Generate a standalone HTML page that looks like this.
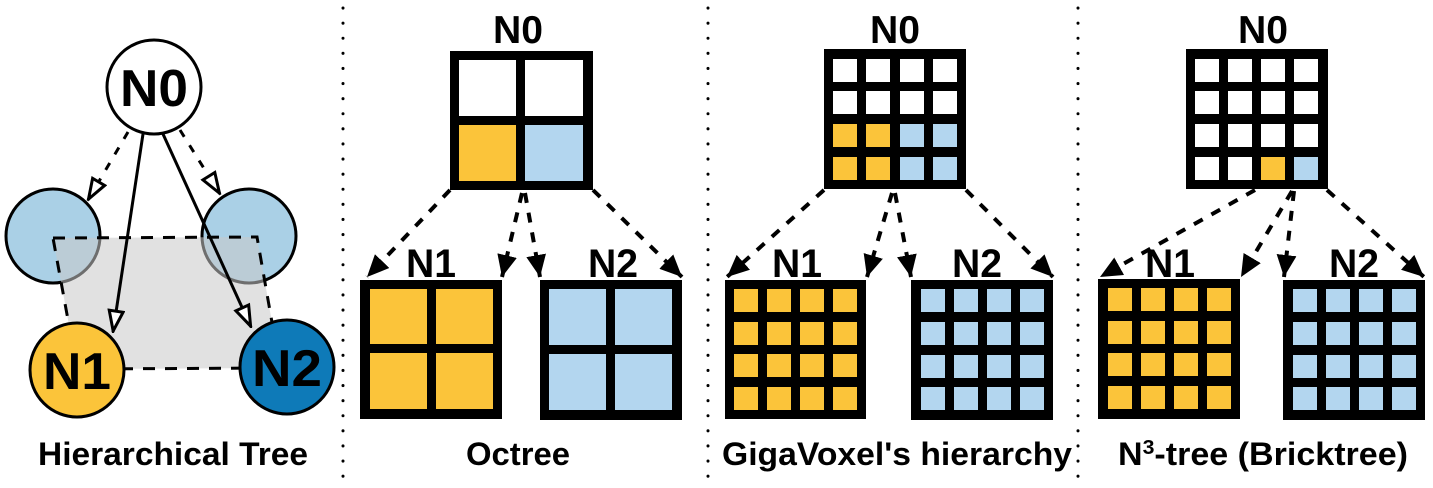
<!DOCTYPE html>
<html><head><meta charset="utf-8"><style>
html,body{margin:0;padding:0;background:#fff;}
svg{display:block;}
text{font-family:"Liberation Sans",Arial,sans-serif;font-weight:bold;fill:#000;}
</style></head><body>
<svg width="1433" height="488" viewBox="0 0 1433 488" xmlns="http://www.w3.org/2000/svg">
<defs>
<marker id="ah" viewBox="0 0 22 20" refX="22" refY="10" markerWidth="22" markerHeight="20" markerUnits="userSpaceOnUse" orient="auto">
<path d="M0,0 L22,10 L0,20 z" fill="#000"/>
</marker>
<marker id="oh" viewBox="0 0 24 18" refX="23" refY="9" markerWidth="24" markerHeight="18" markerUnits="userSpaceOnUse" orient="auto">
<path d="M2,2 L22,9 L2,16 z" fill="#fff" stroke="#000" stroke-width="3"/>
</marker>
</defs>

<g stroke="#000" stroke-width="3" stroke-linecap="round" stroke-dasharray="0.1 15">
<line x1="343" y1="8" x2="343" y2="488"/>
<line x1="708" y1="8" x2="708" y2="488"/>
<line x1="1078" y1="8" x2="1078" y2="488"/>
</g>

<!-- Panel 1 -->
<circle cx="53" cy="236" r="47" fill="#aad0e6" stroke="#000" stroke-width="3"/>
<circle cx="249" cy="236" r="47" fill="#aad0e6" stroke="#000" stroke-width="3"/>
<polygon points="53,238 257,237 280,368 77,369" fill="#c8c8c8" fill-opacity="0.55"/>
<polygon points="53,238 257,237 280,368 77,369" fill="none" stroke="#000" stroke-width="3" stroke-dasharray="12 10"/>
<circle cx="154" cy="87" r="47" fill="#fff" stroke="#000" stroke-width="3"/>
<text x="154" y="106" font-size="52" text-anchor="middle" textLength="68" lengthAdjust="spacingAndGlyphs">N0</text>
<line x1="128" y1="132" x2="88" y2="200" stroke="#000" stroke-width="3" stroke-dasharray="8 10" marker-end="url(#oh)"/>
<line x1="180" y1="130" x2="220" y2="194" stroke="#000" stroke-width="3" stroke-dasharray="8 10" marker-end="url(#oh)"/>
<line x1="143" y1="134" x2="113" y2="332" stroke="#000" stroke-width="3" marker-end="url(#oh)"/>
<line x1="163" y1="134" x2="251" y2="327" stroke="#000" stroke-width="3" marker-end="url(#oh)"/>
<circle cx="77" cy="370" r="47" fill="#fbc43a" stroke="#000" stroke-width="3"/>
<text x="77" y="389" font-size="52" text-anchor="middle" textLength="68" lengthAdjust="spacingAndGlyphs">N1</text>
<circle cx="287" cy="367" r="47" fill="#0e7ab8" stroke="#000" stroke-width="3"/>
<text x="287" y="386" font-size="52" text-anchor="middle" textLength="70" lengthAdjust="spacingAndGlyphs">N2</text>
<text x="173" y="465" font-size="32" text-anchor="middle" textLength="270" lengthAdjust="spacingAndGlyphs">Hierarchical Tree</text>

<!-- Panel 2 Octree -->
<text x="518" y="43" font-size="39" text-anchor="middle" textLength="50" lengthAdjust="spacingAndGlyphs">N0</text>
<rect x="450" y="51" width="143" height="139" fill="#000"/>
<rect x="459" y="60" width="57" height="56" fill="#fff"/>
<rect x="525" y="60" width="58" height="56" fill="#fff"/>
<rect x="459" y="125" width="57" height="56" fill="#fbc43a"/>
<rect x="525" y="125" width="58" height="56" fill="#b3d6ef"/>
<g stroke="#000" stroke-width="4" stroke-dasharray="10 10" marker-end="url(#ah)">
<line x1="450" y1="190" x2="367" y2="277"/>
<line x1="522" y1="193" x2="502" y2="277"/>
<line x1="525" y1="193" x2="540" y2="277"/>
<line x1="593" y1="190" x2="682" y2="277"/>
</g>
<text x="431" y="277" font-size="40" text-anchor="middle" textLength="50" lengthAdjust="spacingAndGlyphs">N1</text>
<text x="613" y="277" font-size="40" text-anchor="middle" textLength="50" lengthAdjust="spacingAndGlyphs">N2</text>
<rect x="360" y="280" width="142" height="139" fill="#000"/>
<rect x="370" y="289" width="57" height="55" fill="#fbc43a"/>
<rect x="436" y="289" width="57" height="55" fill="#fbc43a"/>
<rect x="370" y="353" width="57" height="56" fill="#fbc43a"/>
<rect x="436" y="353" width="57" height="56" fill="#fbc43a"/>
<rect x="540" y="280" width="142" height="140" fill="#000"/>
<rect x="549" y="289" width="57" height="56" fill="#b3d6ef"/>
<rect x="615" y="289" width="57" height="56" fill="#b3d6ef"/>
<rect x="549" y="354" width="57" height="56" fill="#b3d6ef"/>
<rect x="615" y="354" width="57" height="56" fill="#b3d6ef"/>
<text x="518" y="465" font-size="32" text-anchor="middle" textLength="104" lengthAdjust="spacingAndGlyphs">Octree</text>

<!-- Panel 3 GigaVoxel -->
<text x="895" y="43" font-size="39" text-anchor="middle" textLength="50" lengthAdjust="spacingAndGlyphs">N0</text>
<rect x="824" y="49" width="142" height="140" fill="#000"/>
<g>
<rect x="833" y="59" width="24" height="23" fill="#fff"/><rect x="866" y="59" width="24" height="23" fill="#fff"/><rect x="900" y="59" width="24" height="23" fill="#fff"/><rect x="933" y="59" width="24" height="23" fill="#fff"/>
<rect x="833" y="91" width="24" height="23" fill="#fff"/><rect x="866" y="91" width="24" height="23" fill="#fff"/><rect x="900" y="91" width="24" height="23" fill="#fff"/><rect x="933" y="91" width="24" height="23" fill="#fff"/>
<rect x="833" y="124" width="24" height="23" fill="#fbc43a"/><rect x="866" y="124" width="24" height="23" fill="#fbc43a"/><rect x="900" y="124" width="24" height="23" fill="#b3d6ef"/><rect x="933" y="124" width="24" height="23" fill="#b3d6ef"/>
<rect x="833" y="157" width="24" height="23" fill="#fbc43a"/><rect x="866" y="157" width="24" height="23" fill="#fbc43a"/><rect x="900" y="157" width="24" height="23" fill="#b3d6ef"/><rect x="933" y="157" width="24" height="23" fill="#b3d6ef"/>
</g>
<g stroke="#000" stroke-width="4" stroke-dasharray="10 10" marker-end="url(#ah)">
<line x1="824" y1="190" x2="727" y2="277"/>
<line x1="892" y1="193" x2="867" y2="277"/>
<line x1="895" y1="193" x2="911" y2="277"/>
<line x1="966" y1="190" x2="1053" y2="277"/>
</g>
<text x="797" y="277" font-size="40" text-anchor="middle" textLength="50" lengthAdjust="spacingAndGlyphs">N1</text>
<text x="977" y="277" font-size="40" text-anchor="middle" textLength="50" lengthAdjust="spacingAndGlyphs">N2</text>
<rect x="725" y="280" width="141" height="139" fill="#000"/>
<g fill="#fbc43a">
<rect x="734" y="289" width="24" height="23"/><rect x="767" y="289" width="24" height="23"/><rect x="800" y="289" width="24" height="23"/><rect x="833" y="289" width="24" height="23"/>
<rect x="734" y="322" width="24" height="23"/><rect x="767" y="322" width="24" height="23"/><rect x="800" y="322" width="24" height="23"/><rect x="833" y="322" width="24" height="23"/>
<rect x="734" y="354" width="24" height="23"/><rect x="767" y="354" width="24" height="23"/><rect x="800" y="354" width="24" height="23"/><rect x="833" y="354" width="24" height="23"/>
<rect x="734" y="387" width="24" height="23"/><rect x="767" y="387" width="24" height="23"/><rect x="800" y="387" width="24" height="23"/><rect x="833" y="387" width="24" height="23"/>
</g>
<rect x="911" y="280" width="142" height="140" fill="#000"/>
<g fill="#b3d6ef">
<rect x="921" y="289" width="24" height="23"/><rect x="954" y="289" width="24" height="23"/><rect x="987" y="289" width="24" height="23"/><rect x="1020" y="289" width="24" height="23"/>
<rect x="921" y="322" width="24" height="23"/><rect x="954" y="322" width="24" height="23"/><rect x="987" y="322" width="24" height="23"/><rect x="1020" y="322" width="24" height="23"/>
<rect x="921" y="355" width="24" height="23"/><rect x="954" y="355" width="24" height="23"/><rect x="987" y="355" width="24" height="23"/><rect x="1020" y="355" width="24" height="23"/>
<rect x="921" y="387" width="24" height="23"/><rect x="954" y="387" width="24" height="23"/><rect x="987" y="387" width="24" height="23"/><rect x="1020" y="387" width="24" height="23"/>
</g>
<text x="897" y="465" font-size="32" text-anchor="middle" textLength="350" lengthAdjust="spacingAndGlyphs">GigaVoxel's hierarchy</text>

<!-- Panel 4 Bricktree -->
<text x="1263" y="43" font-size="39" text-anchor="middle" textLength="50" lengthAdjust="spacingAndGlyphs">N0</text>
<rect x="1186" y="49" width="142" height="140" fill="#000"/>
<g fill="#fff">
<rect x="1195" y="59" width="24" height="23"/><rect x="1228" y="59" width="24" height="23"/><rect x="1261" y="59" width="24" height="23"/><rect x="1294" y="59" width="24" height="23"/>
<rect x="1195" y="91" width="24" height="23"/><rect x="1228" y="91" width="24" height="23"/><rect x="1261" y="91" width="24" height="23"/><rect x="1294" y="91" width="24" height="23"/>
<rect x="1195" y="124" width="24" height="23"/><rect x="1228" y="124" width="24" height="23"/><rect x="1261" y="124" width="24" height="23"/><rect x="1294" y="124" width="24" height="23"/>
<rect x="1195" y="157" width="24" height="23"/><rect x="1228" y="157" width="24" height="23"/>
</g>
<rect x="1261" y="157" width="24" height="23" fill="#fbc43a"/><rect x="1294" y="157" width="24" height="23" fill="#b3d6ef"/>
<g stroke="#000" stroke-width="4" stroke-dasharray="10 10" marker-end="url(#ah)">
<line x1="1255" y1="190" x2="1100" y2="277"/>
<line x1="1292" y1="191" x2="1241" y2="277"/>
<line x1="1294" y1="191" x2="1284" y2="277"/>
<line x1="1327" y1="190" x2="1424" y2="277"/>
</g>
<text x="1170" y="277" font-size="40" text-anchor="middle" textLength="50" lengthAdjust="spacingAndGlyphs">N1</text>
<text x="1354" y="277" font-size="40" text-anchor="middle" textLength="50" lengthAdjust="spacingAndGlyphs">N2</text>
<rect x="1098" y="279" width="142" height="140" fill="#000"/>
<g fill="#fbc43a">
<rect x="1108" y="288" width="24" height="23"/><rect x="1141" y="288" width="24" height="23"/><rect x="1174" y="288" width="24" height="23"/><rect x="1207" y="288" width="24" height="23"/>
<rect x="1108" y="321" width="24" height="23"/><rect x="1141" y="321" width="24" height="23"/><rect x="1174" y="321" width="24" height="23"/><rect x="1207" y="321" width="24" height="23"/>
<rect x="1108" y="353" width="24" height="23"/><rect x="1141" y="353" width="24" height="23"/><rect x="1174" y="353" width="24" height="23"/><rect x="1207" y="353" width="24" height="23"/>
<rect x="1108" y="386" width="24" height="23"/><rect x="1141" y="386" width="24" height="23"/><rect x="1174" y="386" width="24" height="23"/><rect x="1207" y="386" width="24" height="23"/>
</g>
<rect x="1283" y="280" width="142" height="140" fill="#000"/>
<g fill="#b3d6ef">
<rect x="1293" y="289" width="24" height="23"/><rect x="1326" y="289" width="24" height="23"/><rect x="1359" y="289" width="24" height="23"/><rect x="1392" y="289" width="24" height="23"/>
<rect x="1293" y="322" width="24" height="23"/><rect x="1326" y="322" width="24" height="23"/><rect x="1359" y="322" width="24" height="23"/><rect x="1392" y="322" width="24" height="23"/>
<rect x="1293" y="355" width="24" height="23"/><rect x="1326" y="355" width="24" height="23"/><rect x="1359" y="355" width="24" height="23"/><rect x="1392" y="355" width="24" height="23"/>
<rect x="1293" y="387" width="24" height="23"/><rect x="1326" y="387" width="24" height="23"/><rect x="1359" y="387" width="24" height="23"/><rect x="1392" y="387" width="24" height="23"/>
</g>
<text x="1118" y="465" font-size="32" textLength="290" lengthAdjust="spacingAndGlyphs">N<tspan font-size="20" dy="-11">3</tspan><tspan dy="11">-tree (Bricktree)</tspan></text>
</svg>
</body></html>
